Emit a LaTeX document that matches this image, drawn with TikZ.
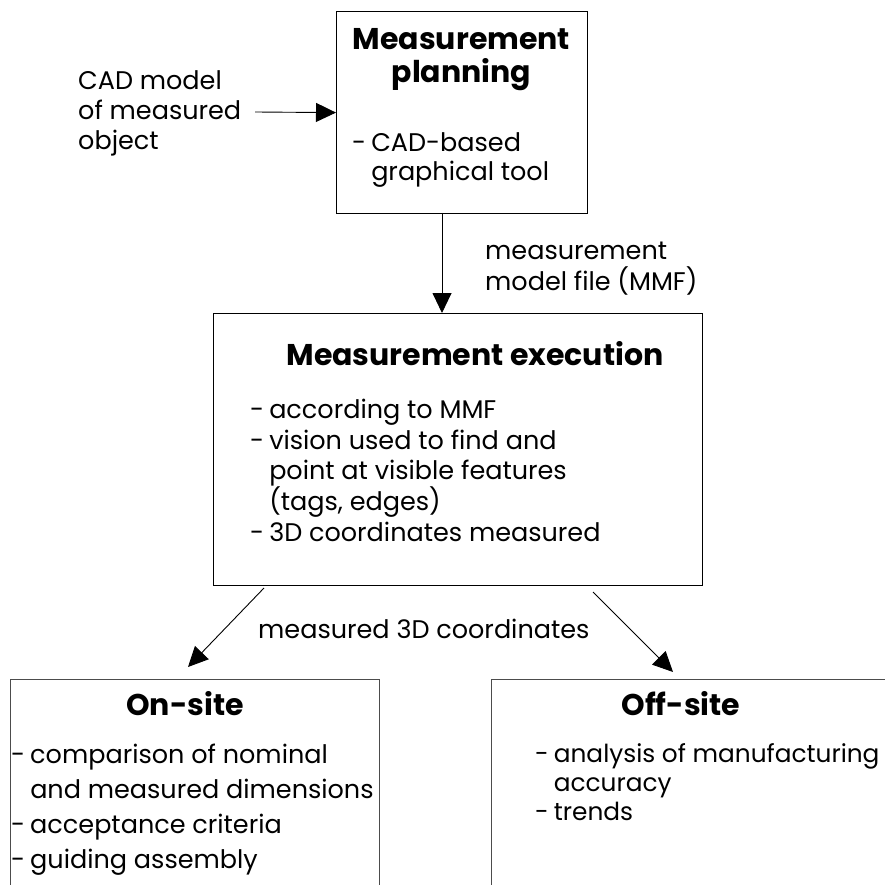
\documentclass[tikz,border=0pt]{standalone}
\usepackage{fontspec}
\setmainfont{Poppins}
\usetikzlibrary{arrows.meta}
\newcommand{\bul}{-\hspace{5pt}}
\newcommand{\ind}{\hphantom{-\hspace{5pt}}}
\begin{document}
\begin{tikzpicture}[x=1pt,y=-1pt,
  box/.style={draw=black,line width=1.2pt,inner sep=0pt,anchor=north west},
  lowbox/.style={box,draw=black!70},
  txt/.style={anchor=base west,inner sep=0pt,font=\fontsize{25.5}{30}\selectfont,align=left},
  ttl/.style={anchor=base,inner sep=0pt,font=\fontsize{30}{33}\selectfont\bfseries,align=center},
  arr/.style={line width=0.9pt,-{Triangle[length=20pt,width=19pt]}}]
\clip (0,0) rectangle (885,885);
\fill[white] (0,0) rectangle (885,885);
% boxes
\node[box,minimum width=251pt,minimum height=202pt] (plan) at (336,11) {};
\node[box,minimum width=489pt,minimum height=272pt] (exec) at (213,313) {};
\node[lowbox,minimum width=369pt,minimum height=260pt] (onsite) at (10,679) {};
\node[lowbox,minimum width=420pt,minimum height=260pt] (offsite) at (491,679) {};
% texts (anchor = baseline of last line)
\node[txt] (cad) at (78,150) {CAD model\\of measured\\object};
\node[ttl] (planttl) at (461.5,83) {Measurement\\planning};
\node[txt,font=\fontsize{25.5}{29}\selectfont] (planbul) at (352,181) {\bul CAD-based\\\ind graphical tool};
\node[txt,font=\fontsize{25.5}{31}\selectfont] (mmf) at (485,290) {measurement\\model file (MMF)};
\node[ttl] (execttl) at (475,365) {Measurement execution};
\node[txt,font=\fontsize{25.5}{30.25}\selectfont] (execbul) at (250,541) {\bul according to MMF\\\bul vision used to find and\\\ind point at visible features\\\ind (tags, edges)\\\bul 3D coordinates measured};
\node[txt] (m3d) at (258,638) {measured 3D coordinates};
\node[ttl] (onttl) at (185,715) {On-site};
\node[txt,font=\fontsize{25.5}{34.7}\selectfont] (onbul) at (11,868) {\bul comparison of nominal\\\ind and measured dimensions\\\bul acceptance criteria\\\bul guiding assembly};
\node[ttl] (offttl) at (681,715) {Off-site};
\node[txt,font=\fontsize{24.8}{29}\selectfont] (offbul) at (535,820) {\bul analysis of manufacturing\\\ind accuracy\\\bul trends};
% connectors
\coordinate (c1) at (255,112);
\draw[arr] (c1) -- (plan.west);
\coordinate (c2) at (442,213);
\draw[arr] (c2) -- (c2 |- exec.north);
\coordinate (c3) at (264,588);
\coordinate (c3e) at (188,667);
\draw[arr] (c3) -- (c3e);
\coordinate (c4) at (593,592);
\coordinate (c4e) at (673,672);
\draw[arr] (c4) -- (c4e);
\end{tikzpicture}
\end{document}
